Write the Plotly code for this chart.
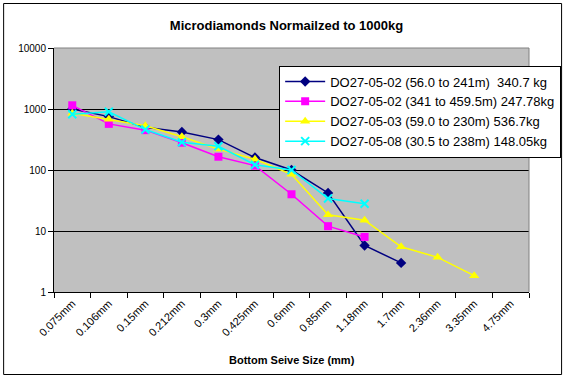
import plotly.graph_objects as go

categories = ["0.075mm", "0.106mm", "0.15mm", "0.212mm", "0.3mm", "0.425mm", "0.6mm",
              "0.85mm", "1.18mm", "1.7mm", "2.36mm", "3.35mm", "4.75mm"]

s1_name = "DO27-05-02 (56.0 to 241m)\u00a0 340.7 kg"
s1_vals = [1000, 750, 500, 420, 315, 160, 100, 42, 5.8, 3.0]

s2_name = "DO27-05-02 (341 to 459.5m) 247.78kg"
s2_vals = [1150, 570, 450, 280, 165, 118, 40, 12, 8.0]

s3_name = "DO27-05-03 (59.0 to 230m) 536.7kg"
s3_vals = [850, 680, 530, 350, 220, 150, 85, 18.5, 15, 5.5, 3.7, 1.85]

s4_name = "DO27-05-08 (30.5 to 238m) 148.05kg"
s4_vals = [820, 900, 460, 285, 245, 122, 100, 34, 28]

y_ticks = [1, 10, 100, 1000, 10000]
y_ticktext = ["1", "10", "100", "1000", "10000"]

FONT = "Liberation Sans, Arial, sans-serif"

fig = go.Figure()

def add_series(name, vals, color, symbol, size, mline_color=None, mline_width=0):
    fig.add_trace(go.Scatter(
        x=categories[:len(vals)], y=vals, name=name, mode="lines+markers",
        line=dict(color=color, width=1.5),
        marker=dict(symbol=symbol, size=size, color=color,
                    line=dict(color=mline_color or color, width=mline_width)),
    ))

add_series(s1_name, s1_vals, "#000080", "diamond", 8)
add_series(s2_name, s2_vals, "#FF00FF", "square", 8)
add_series(s3_name, s3_vals, "#FFFF00", "triangle-up", 9)
add_series(s4_name, s4_vals, "#00FFFF", "x-thin", 8, "#00FFFF", 2)

fig.update_layout(
    width=573, height=380,
    margin=dict(l=54, r=38, t=48, b=88),
    paper_bgcolor="white", plot_bgcolor="#C0C0C0",
    font=dict(family=FONT, color="black", size=10),
    title=dict(text="<b>Microdiamonds Normailzed to 1000kg</b>", x=0.5, xanchor="center",
               y=1 - 25 / 380, yanchor="middle", font=dict(size=13, family=FONT, color="black")),
    showlegend=True,
    legend=dict(x=(282 - 54) / 481, xanchor="left", y=(292.5 - 66) / 244, yanchor="top",
                bgcolor="white", bordercolor="black", borderwidth=1,
                font=dict(size=13, family=FONT, color="black"),
                tracegroupgap=0, itemwidth=40),
    xaxis=dict(type="category", categoryorder="array", categoryarray=categories,
               tickvals=categories, ticktext=categories,
               range=[-0.5, 12.5], tickson="boundaries", ticks="outside", ticklen=5,
               tickcolor="black", showgrid=False, showline=True, linecolor="black",
               linewidth=1, tickangle=-45, tickfont=dict(size=11, family=FONT, color="black"),
               zeroline=False, fixedrange=True),
    yaxis=dict(type="log", range=[0, 4], tickvals=y_ticks, ticktext=y_ticktext,
               ticks="outside", ticklen=5, tickcolor="black", showgrid=True,
               gridcolor="black", gridwidth=1, showline=True, linecolor="black",
               linewidth=1, tickfont=dict(size=10, family=FONT, color="black"),
               zeroline=False, fixedrange=True),
)

# grey plot-area border (top and right)
fig.add_shape(type="line", xref="paper", yref="paper", x0=0, x1=1, y0=1, y1=1,
              line=dict(color="#808080", width=1))
fig.add_shape(type="line", xref="paper", yref="paper", x0=1, x1=1, y0=0, y1=1,
              line=dict(color="#808080", width=1))

# outer chart border
fig.add_shape(type="rect", xref="paper", yref="paper",
              x0=(3 - 54) / 481, x1=(568 - 54) / 481,
              y0=(292.5 - 375) / 244, y1=(292.5 - 4) / 244,
              line=dict(color="black", width=1), fillcolor="rgba(0,0,0,0)", layer="above")

# x axis title
fig.add_annotation(text="<b>Bottom Seive Size (mm)</b>", xref="paper", yref="paper",
                   x=0.5, y=(292.5 - 360) / 244, xanchor="center", yanchor="middle",
                   showarrow=False, font=dict(size=11, family=FONT, color="black"))

fig.write_html("out.html", config={"displayModeBar": False},
               post_script="document.body.style.margin='0px';document.body.style.overflow='hidden';")
